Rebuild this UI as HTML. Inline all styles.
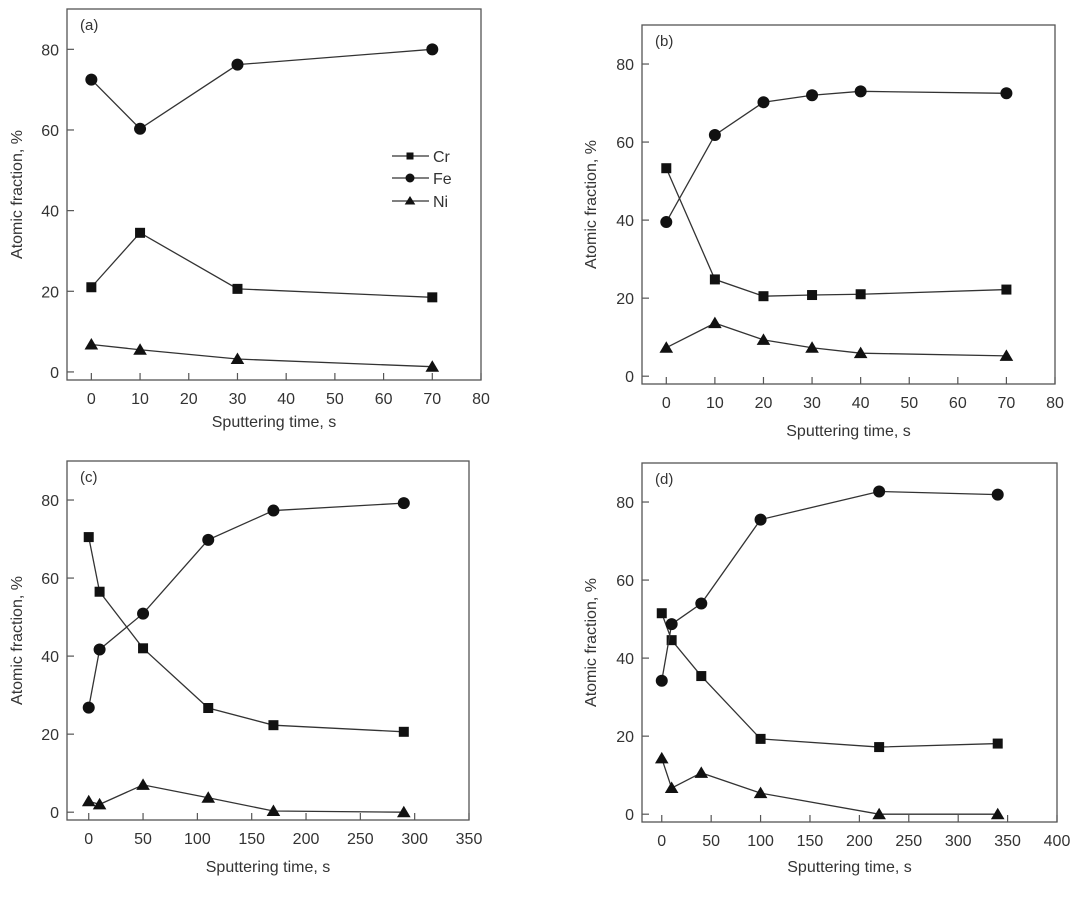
<!DOCTYPE html>
<html><head><meta charset="utf-8"><style>
html,body{margin:0;padding:0;background:#fff;}
svg{display:block;font-family:"Liberation Sans",sans-serif;}
</style></head><body>
<svg id="fig" width="1080" height="900" viewBox="0 0 1080 900">
<rect width="1080" height="900" fill="#ffffff"/>
</svg>
<script>
const aX=[0,10,30,70];
const aCr=[21,34.5,20.6,18.5];
const aFe=[72.5,60.3,76.2,80];
const aNi=[6.8,5.5,3.2,1.3];
const bX=[0,10,20,30,40,70];
const bCr=[53.3,24.8,20.5,20.8,21,22.2];
const bFe=[39.5,61.8,70.2,72,73,72.5];
const bNi=[7.3,13.6,9.3,7.3,5.9,5.2];
const cX=[0,10,50,110,170,290];
const cCr=[70.5,56.5,42,26.7,22.3,20.6];
const cFe=[26.8,41.7,50.9,69.8,77.3,79.2];
const cNi=[2.8,2,7,3.7,0.3,0];
const dX=[0,10,40,100,220,340];
const dCr=[51.5,44.6,35.4,19.3,17.2,18.1];
const dFe=[34.2,48.7,54,75.5,82.7,81.9];
const dNi=[14.3,6.7,10.6,5.4,0,0];
const xTicksA=[0,10,20,30,40,50,60,70,80];
const xTicksC=[0,50,100,150,200,250,300,350];
const xTicksD=[0,50,100,150,200,250,300,350,400];
const yTicks=[0,20,40,60,80];

const NS="http://www.w3.org/2000/svg";
const svg=document.getElementById('fig');
function mk(tag,attrs,parent){const e=document.createElementNS(NS,tag);for(const k in attrs)e.setAttribute(k,attrs[k]);(parent||svg).appendChild(e);return e;}

function marker(g,type,x,y,s){
  let e;
  if(type==='sq') e=mk('rect',{x:x-s,y:y-s,width:2*s,height:2*s,fill:'#111'},g);
  else if(type==='ci') e=mk('circle',{cx:x,cy:y,r:s+1,fill:'#111'},g);
  else e=mk('polygon',{points:`${x},${y-s-1.5} ${x-s-1.8},${y+s} ${x+s+1.8},${y+s}`,fill:'#111'},g);
  return e;
}

function panel(p){
  const g=mk('g',{});
  
  
  const sx=v=>p.L+(v-p.xmin)/(p.xmax-p.xmin)*(p.R-p.L);
  const sy=v=>p.B-(v-(-2))/(90-(-2))*(p.B-p.T);
  const fr=mk('rect',{x:p.L,y:p.T,width:p.R-p.L,height:p.B-p.T,fill:'none',stroke:'#555','stroke-width':1.3},g);
  
  
  p.xt.forEach(t=>{
    const x=sx(t);
    const tk=mk('line',{x1:x,y1:p.B,x2:x,y2:p.B-7,stroke:'#555','stroke-width':1.2},g);
    
    
    const tl=mk('text',{x:x,y:p.B+24,'text-anchor':'middle','font-size':16,fill:'#333'},g);
    tl.textContent=t;
    
    
  });
  yTicks.forEach(t=>{
    const y=sy(t);
    const tk=mk('line',{x1:p.L,y1:y,x2:p.L+7,y2:y,stroke:'#555','stroke-width':1.2},g);
    
    
    const tl=mk('text',{x:p.L-8,y:y+6,'text-anchor':'end','font-size':16,fill:'#333'},g);
    tl.textContent=t;
    
    
  });
  const lab=mk('text',{x:p.L+13,y:p.T+21,'font-size':15,fill:'#333'},g);
  lab.textContent='('+p.id+')';
  
  
  const xt=mk('text',{x:(p.L+p.R)/2,y:p.xty,'text-anchor':'middle','font-size':16,fill:'#333'},g);
  xt.textContent='Sputtering time, s';
  
  
  const yc=(p.T+p.B)/2;
  const yt=mk('text',{x:p.ytx,y:yc,'text-anchor':'middle','font-size':16,fill:'#333',transform:`rotate(-90 ${p.ytx} ${yc})`},g);
  yt.textContent='Atomic fraction, %';
  
  
  [['cr',p.cr,'sq'],['fe',p.fe,'ci'],['ni',p.ni,'tr']].forEach(([n,vals,m])=>{
    const pts=p.x.map((v,i)=>sx(v)+','+sy(vals[i])).join(' ');
    const ln=mk('polyline',{points:pts,fill:'none',stroke:'#333','stroke-width':1.3},g);
    
    
    p.x.forEach((v,i)=>{
      const mm=marker(g,m,sx(v),sy(vals[i]),5);
      
      
    });
  });
}

panel({id:'a',L:67,R:481,T:9,B:380,xmin:-5,xmax:80,xt:xTicksA,x:aX,cr:aCr,fe:aFe,ni:aNi,xty:427,ytx:22});
panel({id:'b',L:642,R:1055,T:25,B:384,xmin:-5,xmax:80,xt:xTicksA,x:bX,cr:bCr,fe:bFe,ni:bNi,xty:436,ytx:596});
panel({id:'c',L:67,R:469,T:461,B:820,xmin:-20,xmax:350,xt:xTicksC,x:cX,cr:cCr,fe:cFe,ni:cNi,xty:872,ytx:22});
panel({id:'d',L:642,R:1057,T:463,B:822,xmin:-20,xmax:400,xt:xTicksD,x:dX,cr:dCr,fe:dFe,ni:dNi,xty:872,ytx:596});

const lg=mk('g',{});


[['Cr','sq',156],['Fe','ci',178],['Ni','tr',201]].forEach(([t,m,y])=>{
  const e=mk('g',{},lg);
  
  
  mk('line',{x1:392,y1:y,x2:429,y2:y,stroke:'#333','stroke-width':1.3},e);
  marker(e,m,410,y,3.5);
  const tx=mk('text',{x:433,y:y+6,'font-size':16,fill:'#333'},e);
  tx.textContent=t;
});
</script>
</body></html>
